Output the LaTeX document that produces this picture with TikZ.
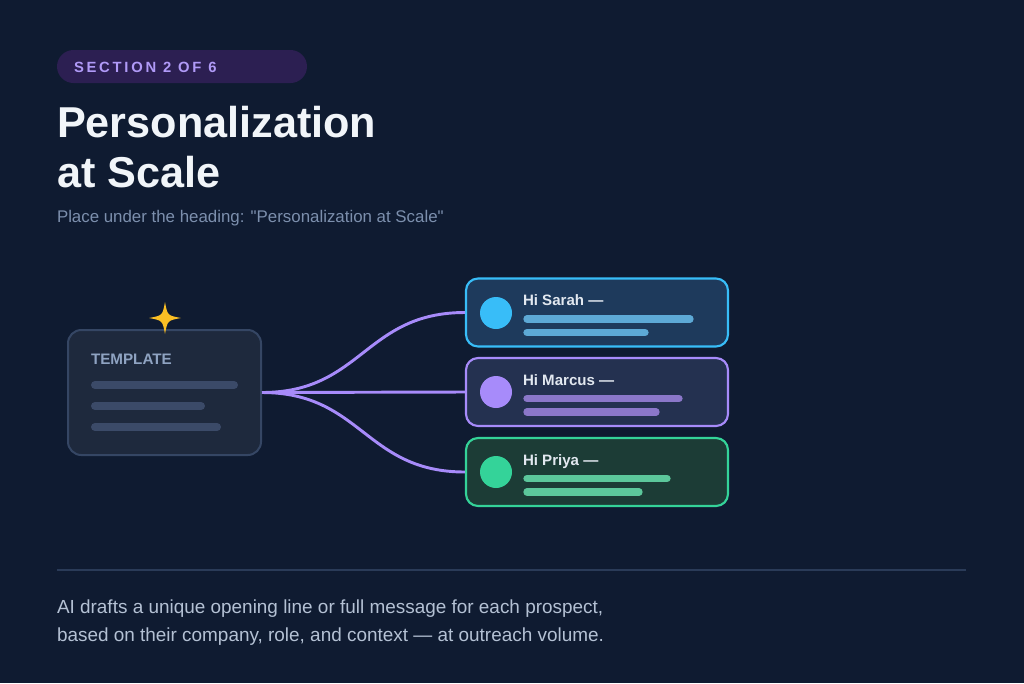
\documentclass[tikz,border=0pt]{standalone}
\usepackage{fontspec}
\setmainfont{Liberation Sans}
\newfontfamily\badgefont[LetterSpace=18.5]{Liberation Sans}
\definecolor{bg}{HTML}{0F1B31}
\definecolor{badge}{HTML}{2C1F52}
\definecolor{lav}{HTML}{A78BFA}
\definecolor{badgetext}{HTML}{B09AF7}
\definecolor{titlec}{HTML}{F1F5F9}
\definecolor{subc}{HTML}{7C8FAD}
\definecolor{tplfill}{HTML}{1E293D}
\definecolor{tplborder}{HTML}{354664}
\definecolor{tpltext}{HTML}{8FA3C2}
\definecolor{tplbar}{HTML}{3B4A68}
\definecolor{star}{HTML}{FBBF24}
\definecolor{sky}{HTML}{38BDF8}
\definecolor{skyfill}{HTML}{1E3A5C}
\definecolor{skybar}{HTML}{5DA9D6}
\definecolor{purfill}{HTML}{243150}
\definecolor{purbar}{HTML}{8B77C9}
\definecolor{grn}{HTML}{34D399}
\definecolor{grnfill}{HTML}{1C3C36}
\definecolor{grnbar}{HTML}{5CC79B}
\definecolor{cardtext}{HTML}{E2E8F0}
\definecolor{sep}{HTML}{2A3B58}
\definecolor{bodyc}{HTML}{B4C1D4}
\tikzset{
  txt/.style={anchor=base west, inner sep=0pt, outer sep=0pt},
  tbox/.style={draw=tplborder, fill=tplfill, line width=1.5pt, rounded corners=10pt,
    minimum width=144.75pt, minimum height=93.75pt, inner sep=0pt},
  card/.style={line width=1.6pt, rounded corners=9pt,
    minimum width=196.5pt, minimum height=51pt, inner sep=0pt},
  bar/.style={line width=6pt, line cap=round},
  cbar/.style={line width=5.5pt, line cap=round},
  dot/.style={circle, minimum size=24pt, inner sep=0pt},
  conn/.style={draw=lav, line width=2.2pt},
  nametxt/.style={txt, text=cardtext, font=\fontsize{11.3pt}{13pt}\selectfont\bfseries},
}
\begin{document}
\begin{tikzpicture}[x=0.75pt, y=-0.75pt]
\useasboundingbox (0,0) rectangle (1024,683);
\fill[bg] (0,0) rectangle (1024,683);
% badge
\node[fill=badge, rounded corners=12.4pt, minimum width=187.5pt, minimum height=24.75pt, inner sep=0pt] (badge) at (182,66.5) {};
\node[txt, text=badgetext, font=\fontsize{11.1pt}{13pt}\badgefont\bfseries] (badgetxt) at (74,72.5) {SECTION 2 OF 6};
% title
\node[txt, text=titlec, font=\fontsize{32.4pt}{36pt}\selectfont\bfseries] (t1) at (57,137.5) {Personalization};
\node[txt, text=titlec, font=\fontsize{32.4pt}{36pt}\selectfont\bfseries] (t2) at (57,187.5) {at Scale};
\node[txt, text=subc, font=\fontsize{12.65pt}{14pt}\selectfont] (sub) at (57,222) {Place under the heading: \textquotedbl Personalization at Scale\textquotedbl};
% template
\node[tbox] (tpl) at (164.5,392.5) {};
\node[txt, text=tpltext, font=\fontsize{11.4pt}{13pt}\selectfont\bfseries] (tpllabel) at (91,364) {TEMPLATE};
\draw[bar, tplbar] (95,385) -- (234,385);
\draw[bar, tplbar] (95,406) -- (201,406);
\draw[bar, tplbar] (95,427) -- (217,427);
% star
\fill[star] (165,302) .. controls (167.5,315.5) .. (181,318) .. controls (167.5,320.5) .. (165,334)
  .. controls (162.5,320.5) .. (149,318) .. controls (162.5,315.5) .. cycle;
% cards
\node[card, draw=sky, fill=skyfill] (c1) at (597,312.5) {};
\node[card, draw=lav, fill=purfill] (c2) at (597,392) {};
\node[card, draw=grn, fill=grnfill] (c3) at (597,472) {};
% connectors
\draw[conn] (tpl.east) .. controls +(75pt,0) and +(-75pt,0) .. (c1.west);
\draw[conn] (tpl.east) -- (c2.west);
\draw[conn] (tpl.east) .. controls +(75pt,0) and +(-75pt,0) .. (c3.west);
% card 1
\node[dot, fill=sky] (d1) at (496,313) {};
\node[nametxt] (n1) at (523,305) {Hi Sarah —};
\draw[cbar, skybar] (527,319) -- (690,319);
\draw[cbar, skybar] (527,332.5) -- (645,332.5);
% card 2
\node[dot, fill=lav] (d2) at (496,392) {};
\node[nametxt] (n2) at (523,385) {Hi Marcus —};
\draw[cbar, purbar] (527,398.5) -- (679,398.5);
\draw[cbar, purbar] (527,412) -- (656,412);
% card 3
\node[dot, fill=grn] (d3) at (496,472) {};
\node[nametxt] (n3) at (523,465) {Hi Priya —};
\draw[cbar, grnbar] (527,478.5) -- (667,478.5);
\draw[cbar, grnbar] (527,492) -- (639,492);
% separator
\coordinate (s1) at (57,570);
\coordinate (s2) at (966,570);
\draw[sep, line width=1.5pt] (s1) -- (s2);
% body text
\node[txt, text=bodyc, font=\fontsize{14.2pt}{16pt}\selectfont] (b1) at (57,613) {AI drafts a unique opening line or full message for each prospect,};
\node[txt, text=bodyc, font=\fontsize{14.2pt}{16pt}\selectfont] (b2) at (57,641) {based on their company, role, and context — at outreach volume.};
\end{tikzpicture}
\end{document}
